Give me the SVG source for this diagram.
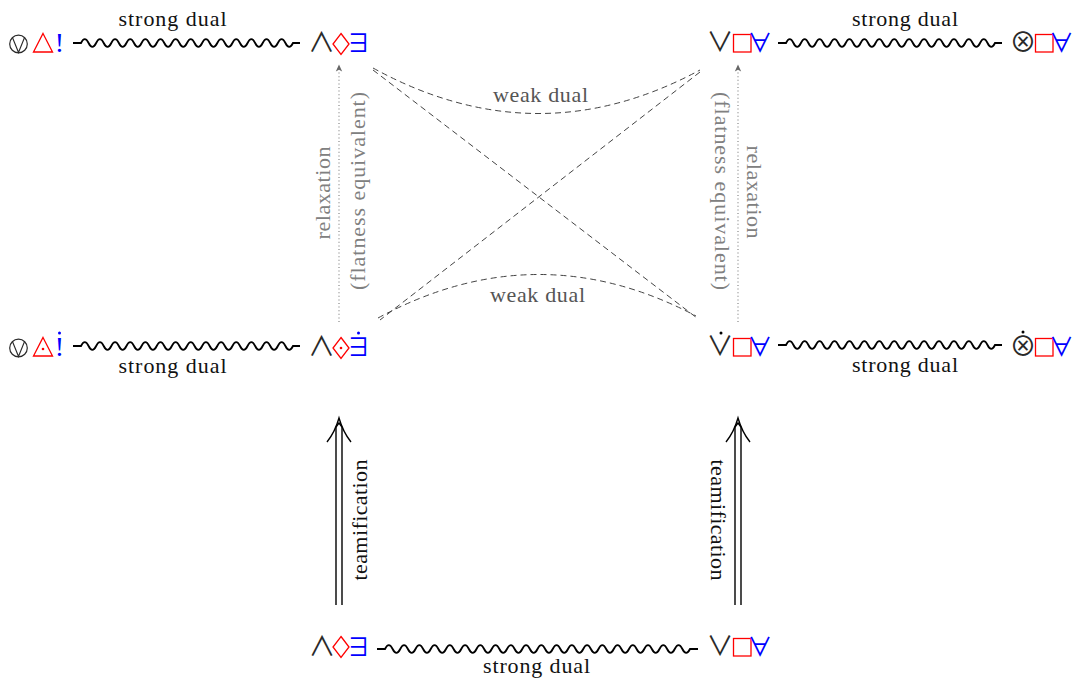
<svg xmlns="http://www.w3.org/2000/svg" width="1078" height="684" viewBox="0 0 1078 684">
  <style>
    .sym { font-family: "Noto Sans CJK JP", "DejaVu Sans", sans-serif; text-anchor: middle; font-size: 25px; }
    .op { fill: #2a2a2a; font-size: 27px; }
    .blue { fill: #0000ff; }
    .bang { font-family: "Liberation Serif", serif; font-size: 28px; fill: #0000ff; text-anchor: middle; }
    .shape { fill: none; stroke: #ff0000; stroke-width: 1.3; }
    .lbl { font-family: "Liberation Serif", "Times New Roman", serif; font-size: 22px; text-anchor: middle; fill: #111; }
    .gray { fill: #808080; }
    .weak { fill: #555; }
    .wave { fill: none; stroke: #000; stroke-width: 1.8; }
    .dash { fill: none; stroke: #444; stroke-width: 1; stroke-dasharray: 6 4; }
    .dots { fill: none; stroke: #888; stroke-width: 1.2; stroke-dasharray: 1 2.6; }
    .dbl { fill: none; stroke: #000; stroke-width: 1.4; }
    .ring { fill: none; stroke: #2a2a2a; stroke-width: 1.2; }
    .vee { fill: none; stroke: #2a2a2a; stroke-width: 1.2; }
    .dotk { fill: #000; }
    .dotr { fill: #ff0000; }
    .dotb { fill: #0000ff; }
  </style>

  <!-- connectors -->
  <g id="connectors">
    <!-- strong duals (snakes) -->
    <path class="wave" d="M73,43 H81 q3.786,-7.6 7.571,0 t7.571,0 t7.571,0 t7.571,0 t7.571,0 t7.571,0 t7.571,0 t7.571,0 t7.571,0 t7.571,0 t7.571,0 t7.571,0 t7.571,0 t7.571,0 t7.571,0 t7.571,0 t7.571,0 t7.571,0 t7.571,0 t7.571,0 t7.571,0 t7.571,0 t7.571,0 t7.571,0 t7.571,0 t7.571,0 t7.571,0 t7.571,0 H300"/>
    <path class="wave" d="M778,43 H786 q3.732,-7.6 7.464,0 t7.464,0 t7.464,0 t7.464,0 t7.464,0 t7.464,0 t7.464,0 t7.464,0 t7.464,0 t7.464,0 t7.464,0 t7.464,0 t7.464,0 t7.464,0 t7.464,0 t7.464,0 t7.464,0 t7.464,0 t7.464,0 t7.464,0 t7.464,0 t7.464,0 t7.464,0 t7.464,0 t7.464,0 t7.464,0 t7.464,0 t7.464,0 H1002"/>
    <path class="wave" d="M73,346 H81 q3.786,-7.6 7.571,0 t7.571,0 t7.571,0 t7.571,0 t7.571,0 t7.571,0 t7.571,0 t7.571,0 t7.571,0 t7.571,0 t7.571,0 t7.571,0 t7.571,0 t7.571,0 t7.571,0 t7.571,0 t7.571,0 t7.571,0 t7.571,0 t7.571,0 t7.571,0 t7.571,0 t7.571,0 t7.571,0 t7.571,0 t7.571,0 t7.571,0 t7.571,0 H300"/>
    <path class="wave" d="M778,345 H786 q3.732,-7.6 7.464,0 t7.464,0 t7.464,0 t7.464,0 t7.464,0 t7.464,0 t7.464,0 t7.464,0 t7.464,0 t7.464,0 t7.464,0 t7.464,0 t7.464,0 t7.464,0 t7.464,0 t7.464,0 t7.464,0 t7.464,0 t7.464,0 t7.464,0 t7.464,0 t7.464,0 t7.464,0 t7.464,0 t7.464,0 t7.464,0 t7.464,0 t7.464,0 H1002"/>
    <path class="wave" d="M377,649 H385 q3.8125,-7.6 7.625,0 t7.625,0 t7.625,0 t7.625,0 t7.625,0 t7.625,0 t7.625,0 t7.625,0 t7.625,0 t7.625,0 t7.625,0 t7.625,0 t7.625,0 t7.625,0 t7.625,0 t7.625,0 t7.625,0 t7.625,0 t7.625,0 t7.625,0 t7.625,0 t7.625,0 t7.625,0 t7.625,0 t7.625,0 t7.625,0 t7.625,0 t7.625,0 t7.625,0 t7.625,0 t7.625,0 t7.625,0 t7.625,0 t7.625,0 t7.625,0 t7.625,0 t7.625,0 t7.625,0 t7.625,0 t7.625,0 H698"/>

    <!-- weak duals -->
    <path class="dash" d="M373,68 Q537,158 700,70"/>
    <path class="dash" d="M378,318 Q537,232 696,316"/>
    <path class="dash" d="M373,70 L697,318"/>
    <path class="dash" d="M700,72 L380,320"/>

    <!-- relaxations -->
    <path class="dots" d="M339,322 V70"/>
    <path d="M335.8,71.5 L339,64.5 L342.2,71.5 L339,69.8 Z" fill="#666"/>
    <path class="dots" d="M738,322 V70"/>
    <path d="M734.8,71.5 L738,64.5 L741.2,71.5 L738,69.8 Z" fill="#666"/>

    <!-- teamifications -->
    <path class="dbl" d="M336,605 V427 M342,605 V427"/>
    <path class="dbl" d="M327,442 Q335,432 339,418 Q343,432 351,442"/>
    <path class="dbl" d="M336,427 L339,423 L342,427"/>
    <path class="dbl" d="M735,605 V427 M741,605 V427"/>
    <path class="dbl" d="M726,442 Q734,432 738,418 Q742,432 750,442"/>
    <path class="dbl" d="M735,427 L738,423 L741,427"/>

    <!-- labels -->
    <text class="lbl" x="172.5" y="26" textLength="108" lengthAdjust="spacing">strong dual</text>
    <text class="lbl" x="905" y="26" textLength="106" lengthAdjust="spacing">strong dual</text>
    <text class="lbl" x="172.5" y="373" textLength="108" lengthAdjust="spacing">strong dual</text>
    <text class="lbl" x="905" y="372" textLength="106" lengthAdjust="spacing">strong dual</text>
    <text class="lbl" x="536.5" y="673" textLength="107" lengthAdjust="spacing">strong dual</text>
    <text class="lbl weak" x="540.5" y="102" textLength="95" lengthAdjust="spacing">weak dual</text>
    <text class="lbl weak" x="537.5" y="302" textLength="95" lengthAdjust="spacing">weak dual</text>
    <text class="lbl gray" transform="translate(330,193) rotate(-90)" textLength="93" lengthAdjust="spacing">relaxation</text>
    <text class="lbl gray" transform="translate(365,191) rotate(-90)" textLength="198" lengthAdjust="spacing">(flatness equivalent)</text>
    <text class="lbl gray" transform="translate(747,192) rotate(90)" textLength="93" lengthAdjust="spacing">relaxation</text>
    <text class="lbl gray" transform="translate(715,191) rotate(90)" textLength="198" lengthAdjust="spacing">(flatness equivalent)</text>
    <text class="lbl" transform="translate(367,520) rotate(-90)" textLength="121" lengthAdjust="spacing">teamification</text>
    <text class="lbl" transform="translate(711,520) rotate(90)" textLength="121" lengthAdjust="spacing">teamification</text>
  </g>

  <!-- top row -->
  <g id="node-top-left">
    <circle class="ring" cx="18.5" cy="44" r="8.8"/>
    <path class="vee" d="M12.5,37.6 L18.5,52.5 L24.5,37.6"/>
    <polygon class="shape" points="43,33.5 52.5,52 33.5,52"/>
    <text class="bang" x="59.5" y="52">!</text>
  </g>
  <g id="node-top-and">
    <text class="sym op" x="321.5" y="52">∧</text>
    <polygon class="shape" points="341,33.5 349,44 341,54.5 333,44"/>
    <text class="sym blue" x="358.5" y="52">∃</text>
  </g>
  <g id="node-top-or">
    <text class="sym op" x="720" y="52">∨</text>
    <rect class="shape" x="733.5" y="34.5" width="17.5" height="17.5"/>
    <text class="sym blue" x="760" y="52">∀</text>
  </g>
  <g id="node-top-right">
    <text class="sym op" x="1023" y="52">⊗</text>
    <rect class="shape" x="1035.5" y="34.5" width="17.5" height="17.5"/>
    <text class="sym blue" x="1061.5" y="52">∀</text>
  </g>

  <!-- middle row (dotted variants) -->
  <g id="node-mid-left">
    <circle class="ring" cx="18.5" cy="348" r="8.8"/>
    <path class="vee" d="M12.5,341.6 L18.5,356.5 L24.5,341.6"/>
    <polygon class="shape" points="43,337.5 52.5,356 33.5,356"/>
    <circle class="dotr" cx="43" cy="349" r="1.3"/>
    <text class="bang" x="59.5" y="356">!</text>
    <circle class="dotb" cx="59.5" cy="333" r="1.5"/>
  </g>
  <g id="node-mid-and">
    <text class="sym op" x="321.5" y="356">∧</text>
    <polygon class="shape" points="341,337.5 349,348 341,358.5 333,348"/>
    <circle class="dotr" cx="341" cy="348" r="1.3"/>
    <text class="sym blue" x="358.5" y="356">∃</text>
    <circle class="dotb" cx="358.5" cy="333" r="1.5"/>
  </g>
  <g id="node-mid-or">
    <text class="sym op" x="720" y="356">∨</text>
    <circle class="dotk" cx="721" cy="333" r="1.5"/>
    <rect class="shape" x="733.5" y="338.5" width="17.5" height="17.5"/>
    <text class="sym blue" x="760" y="356">∀</text>
  </g>
  <g id="node-mid-right">
    <text class="sym op" x="1023" y="356">⊗</text>
    <circle class="dotk" cx="1023" cy="332" r="1.5"/>
    <rect class="shape" x="1035.5" y="338.5" width="17.5" height="17.5"/>
    <text class="sym blue" x="1061.5" y="356">∀</text>
  </g>

  <!-- bottom row -->
  <g id="node-bottom-and">
    <text class="sym op" x="322" y="656">∧</text>
    <polygon class="shape" points="341,636.5 349,647 341,657.5 333,647"/>
    <text class="sym blue" x="358.5" y="656">∃</text>
  </g>
  <g id="node-bottom-or">
    <text class="sym op" x="720" y="656">∨</text>
    <rect class="shape" x="733.5" y="638.5" width="17.5" height="17.5"/>
    <text class="sym blue" x="760" y="656">∀</text>
  </g>
</svg>
